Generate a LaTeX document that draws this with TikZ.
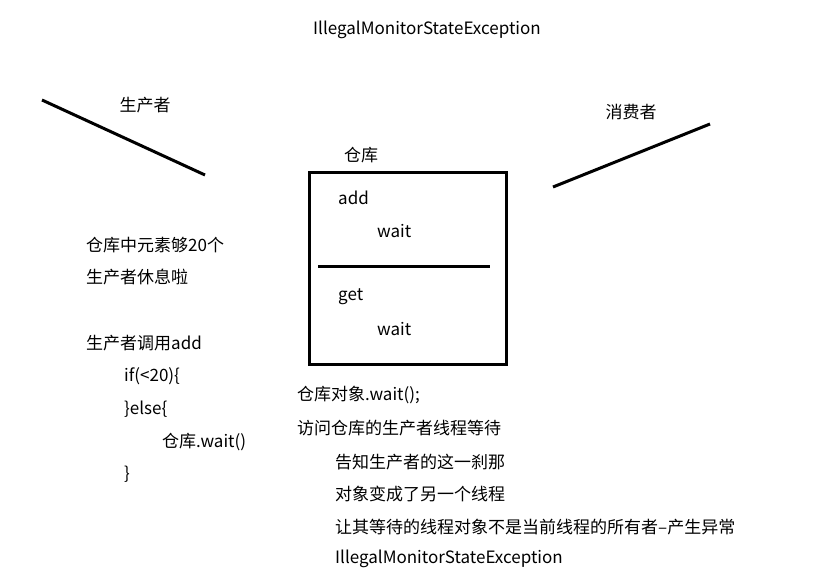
\documentclass[tikz,border=0pt]{standalone}
\usepackage{fontspec}
\setmainfont{Noto Sans CJK SC}
\begin{document}
\begin{tikzpicture}[x=1pt,y=-1pt,
  t/.style={anchor=west,inner sep=0pt,font=\fontsize{17}{17}\selectfont},
  c/.style={inner sep=0pt,font=\fontsize{17}{17}\selectfont},
  stroke/.style={line width=3pt}]
\useasboundingbox (0,0) rectangle (834,585);
\node[c] (title) at (427,30) {IllegalMonitorStateException};
\coordinate (p1) at (42,100); \coordinate (p2) at (205,175);
\draw[stroke] (p1) -- (p2);
\node[c] (prod) at (145,105) {生产者};
\coordinate (q1) at (553,187); \coordinate (q2) at (710,124);
\draw[stroke] (q1) -- (q2);
\node[c] (cons) at (631,112) {消费者};
\node[c] (wh) at (361,155) {仓库};
\draw[stroke] (309,173) rectangle (506,364);
\coordinate (s1) at (318,266); \coordinate (s2) at (490,266);
\draw[stroke] (s1) -- (s2);
\node[t] (add) at (338,198) {add};
\node[t] (w1) at (377,231) {wait};
\node[t] (get) at (338,297) {get};
\node[t] (w2) at (377,329) {wait};
\node[t] (l1) at (86,245) {仓库中元素够20个};
\node[t] (l2) at (86,277) {生产者休息啦};
\node[t] (l3) at (86,343) {生产者调用add};
\node[t] (l4) at (124,376) {if(<20)\{};
\node[t] (l5) at (124,409) {\}else\{};
\node[t] (l6) at (162,442) {仓库.wait()};
\node[t] (l7) at (124,474) {\}};
\node[t] (b1) at (297,395) {仓库对象.wait();};
\node[t] (b2) at (297,428) {访问仓库的生产者线程等待};
\node[t] (b3) at (335,462) {告知生产者的这一刹那};
\node[t] (b4) at (335,494) {对象变成了另一个线程};
\node[t] (b5) at (335,527) {让其等待的线程对象不是当前线程的所有者--产生异常};
\node[t] (b6) at (335,559) {IllegalMonitorStateException};
\end{tikzpicture}
\end{document}
